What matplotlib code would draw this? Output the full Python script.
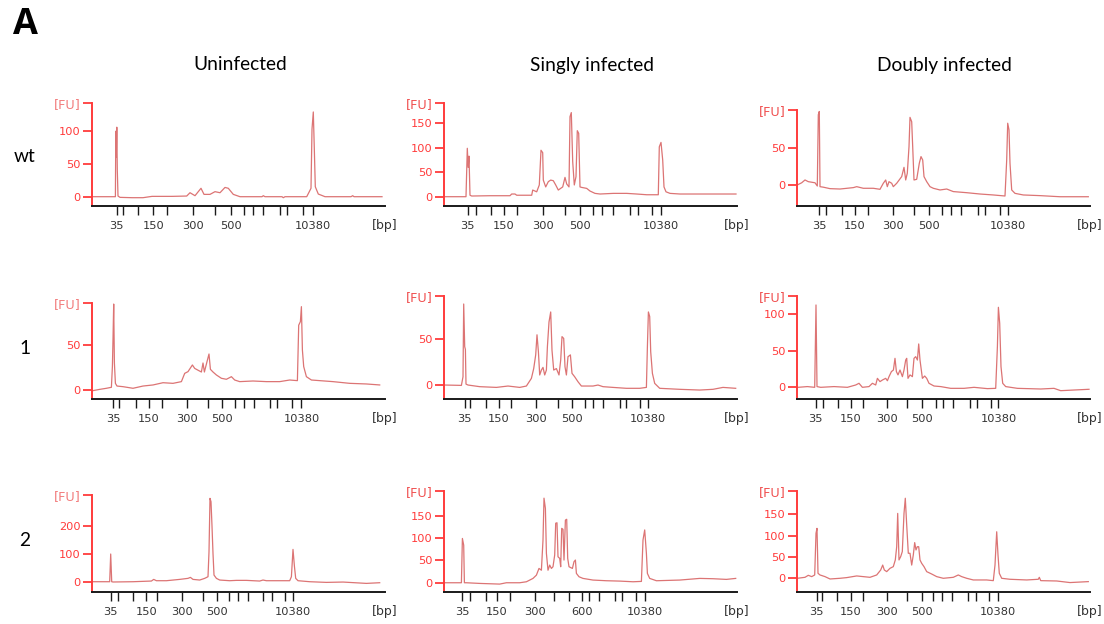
import matplotlib
matplotlib.use("Agg")
import matplotlib.pyplot as plt

# ---------------- data ----------------
col_titles = ["Uninfected", "Singly infected", "Doubly infected"]
row_labels = ["wt", "1", "2"]
ladder_bp = [35, 50, 100, 150, 200, 300, 400, 500, 600, 700, 1000, 2000, 3000, 7000, 10380]

# ladder migration positions (per run)
ladder_wt_uninf = [24.7, 31.3, 46.3, 61.3, 74.7, 100.7, 123, 139, 152.3, 161.3, 171.3, 188, 195.3, 210.7, 221.3]
ladder_wt_single = [23.7, 31.7, 47, 60, 72.7, 99.3, 121, 136, 149.3, 157.7, 169.3, 186, 194.3, 207.7, 217]
ladder_wt_double = [22.3, 29.3, 45, 58.3, 71.6, 96, 117.6, 132.6, 145, 154.3, 164.3, 181, 188.3, 203.3, 211]
ladder_1_uninf = [21, 27, 43.7, 56.7, 70, 95, 116, 130, 143.4, 152, 162, 177.7, 185, 200, 209.4]
ladder_1_single = [20.7, 25.7, 42.4, 55, 67.4, 92.4, 114, 128.4, 140.7, 149, 159, 175.7, 182.4, 195.7, 204]
ladder_1_double = [19, 26.3, 41.3, 54, 66.7, 90.7, 110.7, 125.7, 139, 146.3, 156.3, 173, 180, 194, 201.7]
ladder_2_uninf = [18.7, 26, 41, 54.4, 65.4, 90.4, 111, 125, 137, 146, 156, 171, 180.4, 192.7, 201]
ladder_2_single = [18.4, 26.4, 41.7, 53, 65.7, 90.7, 109.7, 124.7, 138.4, 145, 155, 171.4, 178.4, 191.7, 200.7]
ladder_2_double = [20, 25.6, 40.6, 54, 66, 90, 110, 125, 136.6, 145.6, 155.6, 171, 179.3, 192.6, 201]

labeled_bp_default = [35, 150, 300, 500, 10380]
labeled_bp_2_single = [35, 150, 300, 600, 10380]

# traces: migration position / fluorescence [FU]
wt_uninf_x = [0, 20, 23.4, 23.8, 24.3, 24.8, 25.3, 26.0, 28, 40, 51, 60, 80, 94.7, 98, 103, 109, 112, 118, 123,
              128, 133, 136.3, 141.3, 148, 170, 171.3, 173, 190, 191.3, 193, 214.7, 217.3, 219, 220, 221.3, 222.3,
              223.3, 226.3, 229.7, 233, 259, 260.7, 262, 290]
wt_uninf_y = [0, 0, 0, 99, 60, 105, 40, 1, -1, -1.5, -1.5, 0.5, 0.5, 1, 6, 1.5, 12.7, 3.5, 3.5, 7.6,
              6, 14, 12.7, 3.5, 0, 0, 1.5, 0, 0, -1.5, 0, 0, 7.6, 12.7, 102, 128, 73,
              15, 4, 2, 0, 0, 1.5, 0, 0]

wt_single_x = [1, 22, 23.3, 24.2, 25, 26, 27.7, 46, 66, 67.7, 71, 72.7, 87.7, 88.7, 92.7, 95.3, 97, 98.7, 99.3,
               101.7, 104.3, 106.7, 109.3, 111.7, 114.3, 118.7, 121, 122.7, 125, 126, 127.3, 128.7, 130.3, 132,
               133.3, 134.7, 136, 137.7, 142.7, 146, 151, 156, 169.3, 182.7, 192.7, 202.7, 214.3, 215.3, 217,
               218.7, 220, 222, 226, 236, 269.3, 292]
wt_single_y = [0, 0, 99, 60, 83, 3, 1.4, 2, 2, 5.5, 5.5, 3, 3, 13.6, 10, 24, 95, 90, 34,
               20, 30.7, 34, 32.7, 24, 13.6, 20, 39.5, 26, 20, 163.6, 172, 71.6, 24, 41,
               135, 129.5, 20, 19, 17, 11.6, 6.8, 5.5, 6.8, 6.8, 5.5, 4, 4, 102, 111,
               75, 20, 10, 6.8, 5.5, 5.5, 5.5]

wt_double_x = [0.6, 5, 8.3, 11.6, 18.3, 20.6, 21.6, 22.6, 23.3, 26.6, 33.3, 43.3, 56.6, 60, 66.6, 76.6, 83.3,
               86.6, 89, 90.6, 92.3, 95, 96.6, 100, 105, 107.3, 109, 110.6, 112.3, 113.3, 115, 116, 117.3, 120,
               122.6, 124.3, 126, 127.3, 130, 133.3, 136.6, 143.3, 150, 156.6, 170, 183.3, 196.6, 208.3, 210,
               211, 212.3, 213.3, 215, 218.3, 226.6, 243.3, 263.3, 291.6]
wt_double_y = [0, 3, 6.8, 4.5, 3, -1.4, 95.5, 100, -2.3, -3, -5, -5.5, -3.6, -2.3, -4.5, -4.5, -5.9,
               2.3, 6.8, -2.3, 4.5, 2.3, -2.3, 2.3, 11.4, 24, 6.8, 16, 52, 92, 86, 52, 6.8, 7.7,
               29.5, 38.6, 34, 11.4, 4.5, -2.3, -4.5, -6.8, -5.5, -9, -10.5, -12.3, -13.6, -15, 34,
               84, 75, 29.5, -6.8, -11.4, -13.6, -14.5, -16, -16]

m1_uninf_x = [1, 7.7, 14.4, 19.4, 20.4, 21, 21.7, 22.4, 23.4, 25, 31, 41, 51, 61, 71, 81, 89.4, 92.7, 96, 100.4,
              102.7, 106, 109.4, 111, 112.4, 115, 117, 118.4, 121, 124.4, 129.4, 134.4, 139.4, 142.7, 147.7,
              161, 174.4, 187.7, 197.7, 205.4, 206.7, 208.4, 209.4, 210.4, 211.7, 214.4, 219.4, 227.7, 241,
              257.7, 274.4, 287.7]
m1_uninf_y = [-0.7, 0.7, 1.9, 3, 26, 56, 95.5, 30, 7.4, 4.4, 3.7, 1.9, 4.4, 5.6, 8.1, 7.4, 9.3, 18.5, 20.4, 27.8,
              24, 22, 20, 30, 20, 31.5, 40, 23, 20, 16.7, 13, 11.9, 14.8, 11.1, 9.3,
              10, 9.3, 9.3, 11.1, 10.4, 72, 76, 92.6, 44.4, 26, 14.8, 11.1, 10.4, 9.3,
              7.4, 6.7, 5.6]

m1_single_x = [0.7, 17.4, 19, 19.7, 20.7, 21.4, 22, 24, 35.7, 52.4, 64, 75.7, 82.4, 87.4, 89.7, 91.7, 93, 94.4,
               95.7, 97.4, 99, 100.7, 102.4, 103.4, 105, 106.7, 108, 109.7, 112.4, 115, 116.7, 118, 119.7, 121,
               122.4, 124, 126.4, 128, 130.7, 134, 137.4, 149, 154, 159, 169, 182.4, 195.7, 202.4, 203.4, 204.4,
               205.7, 206.7, 208.4, 210.7, 215.7, 235.7, 255.7, 269, 279, 291.7]
m1_single_y = [0, -0.4, 9, 88.7, 42, 39, 1, 0, -1.8, -2.6, -1.1, -2.6, -1.1, 7.3, 18, 33, 55, 36.5,
               11, 16.4, 19.3, 11, 16.4, 42, 69, 80, 38, 16.4, 18, 11, 27.4, 53, 51, 20,
               11, 31, 33, 12.8, 9, 3.6, -1.1, -1.1, 0, -1.8, -2.6, -3.6, -3.6, -2.6, 42, 80,
               75, 36.5, 12.8, 1.8, -3.6, -4.7, -5.5, -4.7, -2.6, -3.6]

m1_double_x = [1.3, 10.7, 18, 19.3, 20.3, 24, 37.3, 50.7, 59, 62.3, 65.7, 72.3, 75.7, 79, 80.7, 83.3, 85.7, 89,
               90.7, 92.3, 94.7, 96.7, 98.3, 99.7, 101.3, 103.3, 105.7, 107.3, 109, 110, 111.3, 113.3, 115.7,
               117.3, 119, 120.7, 122, 123.3, 125.7, 128, 130, 132.3, 137.3, 144, 154, 167.3, 177.3, 190.7, 199,
               200.7, 201.7, 203, 204.3, 206, 209, 220.7, 244, 257.3, 264, 277.3, 292.3]
m1_double_y = [0, 1, 0, 112.8, 1, 0, 1, 0, 3.2, 5.5, 0, 1, 5.5, 3.2, 12.3, 7.8, 10, 12.3,
               9, 14.6, 21.5, 23.7, 39.7, 21.5, 17, 23.7, 14.6, 23.7, 37.4, 39.7, 12.3, 17, 14.6,
               39.7, 42, 37.4, 59.4, 37.4, 12.3, 15.5, 12.3, 5.5, 1.8, 1, -1.4, -1.4, 0, -1.8, -1.4,
               55.7, 109.6, 87.7, 28.3, 5.5, 1, -1.4, -2.3, -1.4, -4.6, -3.7, -2.7]

m2_uninf_x = [1, 17.7, 18.7, 19.7, 21, 41, 59.4, 61.7, 64.4, 74.4, 87.7, 96, 98.4, 101, 107.7, 112.7, 116, 117,
              118, 119, 120, 121, 122, 124.4, 127.7, 137.7, 144.4, 154.4, 161, 167.7, 171, 174.4, 197.7, 199.4,
              201, 202.4, 203.7, 206, 217.7, 234.4, 251, 274.4, 287.7]
m2_uninf_y = [0, 0, 99, 0, -1, 0, 2.4, 8.3, 3.6, 3.6, 8.3, 12, 15.5, 8.3, 6, 12, 17.9, 107,
              298, 286, 199, 101, 23.8, 12, 6, 3.6, 4.8, 4.8, 3.6, 2.4, 6, 3.6, 3.6, 17.9,
              115.5, 56, 12, 3.6, 0, -2.4, -1.2, -6, -3.6]

m2_single_x = [0.7, 17.4, 18.4, 19.7, 20.4, 22.4, 35.7, 55.7, 62.4, 75.7, 82.4, 89, 92.4, 95, 97.4, 99, 100,
               101.4, 102.4, 104, 105.7, 107.4, 109, 110.7, 111.7, 113, 114, 115.7, 116.7, 117.7, 119, 120,
               121.4, 122.7, 123.7, 125, 128.4, 130, 131.4, 132.4, 135, 139, 149, 162.4, 175.7, 189, 197.4, 199,
               200.7, 202.4, 203.4, 205.7, 212.4, 235.7, 255.7, 269, 282.4, 291.7]
m2_single_y = [0, 0, 99, 84, 0, 0, -1.5, -3, 0, 0, 2.2, 9.7, 17, 32, 28, 95.5, 189,
               166, 65.7, 28, 39.5, 32, 35.8, 62, 133, 134, 58, 54.5, 35.8, 121.6, 119.4, 50.7,
               140, 141.8, 54.5, 35.8, 32, 47, 50.7, 20.9, 13.4, 9.7, 6, 4.5, 3.7, 2.2, 3, 95.5,
               118, 65.7, 20.9, 9.7, 4.5, 6, 9.7, 9, 7.5, 9.7]

m2_double_x = [0.6, 8.3, 11.6, 15, 18, 19.3, 20.3, 21.3, 23.3, 28.3, 33.3, 43.3, 50, 60, 66.6, 73.3, 80, 84, 86,
               87.6, 90, 93.3, 96.6, 98.6, 100, 101, 102.3, 104, 105.6, 107.3, 108.6, 110, 111.6, 113.3, 115,
               116.6, 118, 119.3, 120.6, 122, 123.3, 125, 127.3, 130, 135, 140, 146.6, 156.6, 161.6, 165, 170,
               176.6, 190, 196.6, 198.3, 200, 201.3, 202.6, 205, 213.3, 230, 241.6, 242.6, 244, 260, 273.3, 291.6]
m2_double_y = [0, 2.3, 7, 3.9, 7.8, 105.5, 117, 11.7, 7.8, 3.9, -1.6, 0, 1.6, 5.5, 3.9, 2.3, 7.8, 19.5, 31,
               19.5, 15.6, 23.4, 27.3, 43, 74, 152, 43, 50.8, 62.5, 152, 187.5, 125, 58.6, 58.6, 31,
               54.7, 83.6, 66.4, 74, 74, 43, 35, 27.3, 15.6, 10, 3.9, 0, 2.3, 7.8, 3.9, 0,
               -3.9, -3.9, -5.5, 31, 109, 54.7, 11.7, 0, -2.3, -3.9, -2.3, 2.3, -5.5, -6.3, -10, -7.8]

# y-axis ranges and ticks [FU]
ylims = [[(-13.6, 142), (-18.4, 191), (-28.2, 102)],
         [(-10, 97), (-15.3, 97.8), (-16, 125.5)],
         [(-35.7, 310), (-20, 205), (-31.4, 204.5)]]
yticks = [[[0, 50, 100], [0, 50, 100, 150], [0, 50]],
          [[0, 50], [0, 50], [0, 50, 100]],
          [[0, 100, 200], [0, 50, 100, 150], [0, 50, 100, 150]]]

traces = [[(wt_uninf_x, wt_uninf_y), (wt_single_x, wt_single_y), (wt_double_x, wt_double_y)],
          [(m1_uninf_x, m1_uninf_y), (m1_single_x, m1_single_y), (m1_double_x, m1_double_y)],
          [(m2_uninf_x, m2_uninf_y), (m2_single_x, m2_single_y), (m2_double_x, m2_double_y)]]
ladders = [[ladder_wt_uninf, ladder_wt_single, ladder_wt_double],
           [ladder_1_uninf, ladder_1_single, ladder_1_double],
           [ladder_2_uninf, ladder_2_single, ladder_2_double]]
labeled = [[labeled_bp_default] * 3,
           [labeled_bp_default] * 3,
           [labeled_bp_default, labeled_bp_2_single, labeled_bp_default]]

# ---------------- layout (pixels) ----------------
W, H = 1104, 624
lefts = [92, 444, 796.7]
width_px = 293
tops = [[102.7, 103.3, 110], [302.7, 295.7, 295.7], [495, 491, 491]]
bottoms = [205.7, 399, 591.7]

RED = "#ff3b3b"
TRACE = "#dc7474"

fig = plt.figure(figsize=(W / 100, H / 100), dpi=100)

for r in range(3):
    for c in range(3):
        L = lefts[c]
        T = tops[r][c]
        B = bottoms[r]
        ax = fig.add_axes([L / W, 1 - B / H, width_px / W, (B - T) / H])
        xs, ys = traces[r][c]
        ax.plot(xs, ys, color=TRACE, lw=0.9)
        ax.set_xlim(0, width_px)
        y0, y1 = ylims[r][c]
        ax.set_ylim(y0, y1)
        for s in ["top", "right"]:
            ax.spines[s].set_visible(False)
        ax.spines["left"].set_color(RED)
        ax.spines["left"].set_linewidth(1.4)
        ax.spines["bottom"].set_color("#1a1a1a")
        ax.spines["bottom"].set_linewidth(1.4)
        yt = yticks[r][c] + [y1]
        ax.set_yticks(yt, [str(v) for v in yticks[r][c]] + ["[FU]"])
        ax.tick_params(axis="y", colors=RED, length=6.5, width=1.3, pad=1.5, labelsize=8.2)
        fu = ax.get_yticklabels()[-1]
        fu.set_color("#f27c7c" if c == 0 else "#f05050")
        fu.set_fontsize(9.2)
        lad = ladders[r][c]
        labs = [str(b) if b in labeled[r][c] else "" for b in ladder_bp]
        ax.set_xticks(lad, labs)
        ax.tick_params(axis="x", colors="#1a1a1a", length=6.5, width=1.0, pad=4.5, labelsize=8.2,
                       labelcolor="#333333")
        ax.annotate("[bp]", xy=(1, 0), xycoords="axes fraction", xytext=(0, -14.2),
                    textcoords="offset points", ha="center", va="center", fontsize=9, color="#333333")

title_font = "Lato"
for c, t in enumerate(col_titles):
    cx = lefts[c] + 148
    fig.text(cx / W, 1 - 65 / H, t, ha="center", va="center", fontsize=13.8, family=title_font)
row_y = [157, 348, 541]
for r, t in enumerate(row_labels):
    fig.text(25 / W, 1 - row_y[r] / H, t, ha="center", va="center", fontsize=13.8, family=title_font)
fig.text(25 / W, 1 - 25 / H, "A", ha="center", va="center", fontsize=26, fontweight="bold", family="Open Sans")

fig.savefig("out.png", dpi=100)
